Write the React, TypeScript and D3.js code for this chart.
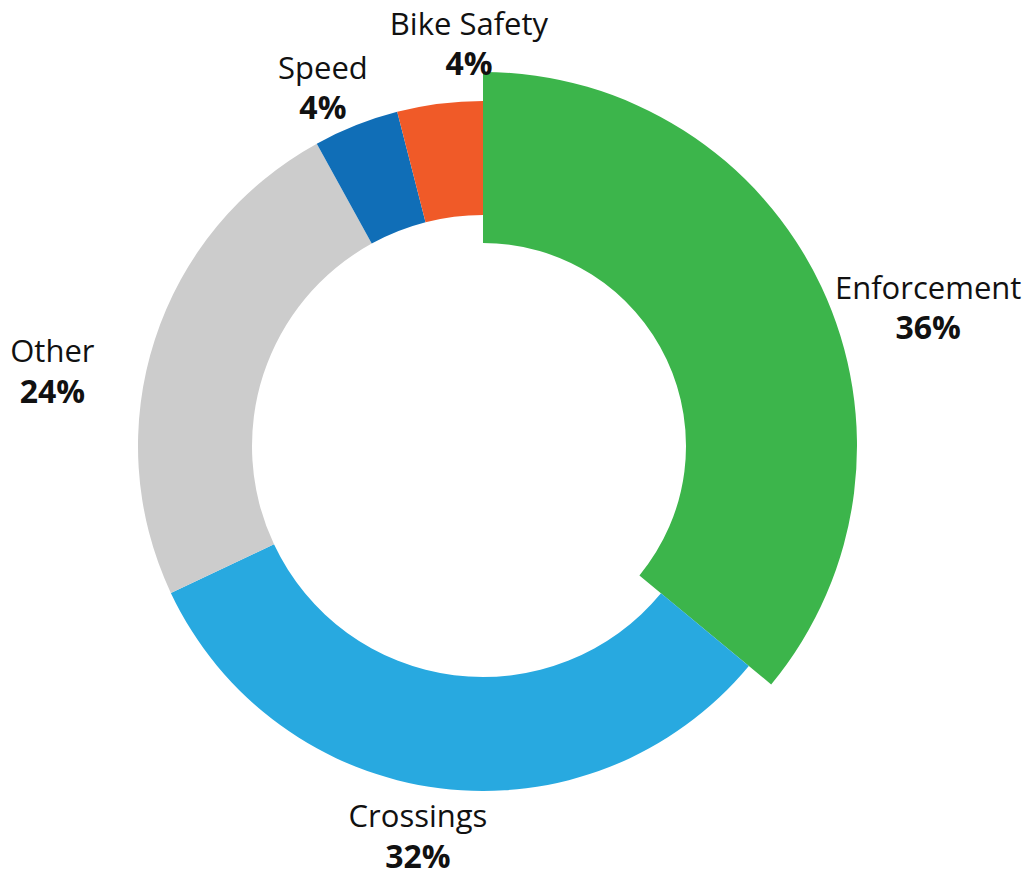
import React from "react";
import * as d3 from "d3";

// ---- Data ----
const categories = ["Enforcement", "Crossings", "Other", "Speed", "Bike Safety"];
const shares = [36, 32, 24, 4, 4];
const valueLabels = ["36%", "32%", "24%", "4%", "4%"];

// ---- Styles / layout ----
const colors = ["#3CB54B", "#28A9E0", "#CCCCCC", "#106EB7", "#F05A28"];
const highlighted = "Enforcement";
// label placement: angle nudge (deg) from slice mid-angle, and distance from centre
const labelNudgeDeg = [8.0, 2.25, -8.2, -2.5, 5.2];
const labelRadius = [466, 396, 437, 392, 402];

const W = 1028;
const H = 876;
const CX = 483;
const CY = 446;
const R_OUT = 345;
const R_IN = 231;
const R_OUT_HI = 374;
const R_IN_HI = 203;
const FONT = "'Open Sans', 'Noto Sans', sans-serif";

export default function App() {
  const pie = d3
    .pie<number>()
    .sort(null)
    .value((d) => d)
    .startAngle(0)
    .endAngle(2 * Math.PI);
  const arcs = pie(shares);

  const arcNormal = d3.arc<d3.PieArcDatum<number>>().innerRadius(R_IN).outerRadius(R_OUT);
  const arcHi = d3.arc<d3.PieArcDatum<number>>().innerRadius(R_IN_HI).outerRadius(R_OUT_HI);

  return (
    <svg
      width={W}
      height={H}
      viewBox={`0 0 ${W} ${H}`}
      style={{ position: "absolute", left: 0, top: 0, display: "block", background: "#ffffff" }}
    >
      <g transform={`translate(${CX},${CY})`}>
        {arcs.map((a, i) => {
          const isHi = categories[i] === highlighted;
          return (
            <path
              key={categories[i]}
              d={(isHi ? arcHi : arcNormal)(a) || ""}
              fill={colors[i]}
            />
          );
        })}
        {arcs.map((a, i) => {
          const mid = (a.startAngle + a.endAngle) / 2 + (labelNudgeDeg[i] * Math.PI) / 180;
          const x = Math.sin(mid) * labelRadius[i];
          const y = -Math.cos(mid) * labelRadius[i];
          return (
            <g key={"lbl-" + categories[i]} transform={`translate(${x},${y})`}>
              <text
                textAnchor="middle"
                y={-9.5}
                fontFamily={FONT}
                fontSize={31}
                fill="#111111"
              >
                {categories[i]}
              </text>
              <text
                textAnchor="middle"
                y={31}
                fontFamily={FONT}
                fontSize={32}
                fontWeight={700}
                fill="#111111"
              >
                {valueLabels[i]}
              </text>
            </g>
          );
        })}
      </g>
    </svg>
  );
}
